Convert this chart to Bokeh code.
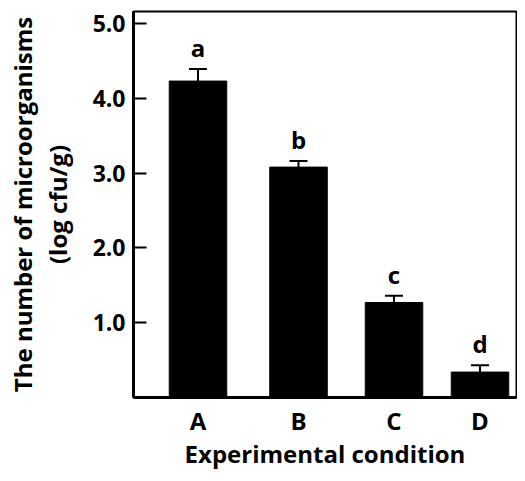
from bokeh.plotting import figure
from bokeh.models import ColumnDataSource, Range1d, FixedTicker, Whisker, TeeHead, PrintfTickFormatter
from bokeh.core.properties import value
from bokeh.embed import file_html
from bokeh.resources import INLINE

categories = ["A", "B", "C", "D"]
means = [4.23, 3.08, 1.27, 0.34]
errors = [0.16, 0.08, 0.09, 0.09]
letters = ["a", "b", "c", "d"]
y_ticks = [1, 2, 3, 4, 5]
x_title = "Experimental condition"
y_title = "The number of microorganisms\n(log cfu/g)"

# layout: horizontal placement of the bars (uneven, as in the reference)
x_pos = [0.645, 1.65, 2.605, 3.465]

FONT = "Open Sans"

src = ColumnDataSource(dict(
    x=x_pos, top=means,
    upper=[m + e for m, e in zip(means, errors)],
    letter=letters,
))

p = figure(width=517, height=473, output_backend="svg", toolbar_location=None,
           x_range=Range1d(0, 3.83), y_range=Range1d(0, 5.16),
           min_border_left=133, min_border_top=11, min_border_right=1, min_border_bottom=76)

p.vbar(x="x", top="top", width=0.575, bottom=0, source=src,
       fill_color="black", line_color="black")

w = Whisker(base="x", lower="top", upper="upper", source=src,
            line_color="black", line_width=2,
            upper_head=TeeHead(size=18, line_color="black", line_width=2),
            lower_head=None)
p.add_layout(w)

p.text(x="x", y="upper", text="letter", source=src, text_align="center",
       text_baseline="bottom", y_offset=-5, text_font_size="24px",
       text_font_style="bold", text_font=value(FONT), text_color="black")

p.grid.visible = False
p.outline_line_color = "black"
p.outline_line_width = 2
p.outline_line_alpha = 1

# x axis
p.xaxis.ticker = FixedTicker(ticks=x_pos)
p.xaxis.major_label_overrides = {x: c for x, c in zip(x_pos, categories)}
p.xaxis.major_tick_line_color = None
p.xaxis.minor_tick_line_color = None
p.xaxis.axis_line_width = 3
p.xaxis.axis_line_color = "black"
p.xaxis.major_label_text_font = FONT
p.xaxis.major_label_text_font_style = "bold"
p.xaxis.major_label_text_font_size = "24px"
p.xaxis.major_label_text_color = "black"
p.xaxis.major_label_standoff = 0
p.xaxis.axis_label = x_title
p.xaxis.axis_label_text_font = FONT
p.xaxis.axis_label_text_font_style = "bold"
p.xaxis.axis_label_text_font_size = "24px"
p.xaxis.axis_label_text_color = "black"
p.xaxis.axis_label_standoff = -3

# y axis
p.yaxis.ticker = FixedTicker(ticks=y_ticks)
p.yaxis.formatter = PrintfTickFormatter(format="%.1f")
p.yaxis.major_tick_in = 13
p.yaxis.major_tick_out = 0
p.yaxis.major_tick_line_width = 2
p.yaxis.minor_tick_line_color = None
p.yaxis.axis_line_width = 3
p.yaxis.axis_line_color = "black"
p.yaxis.major_label_text_font = FONT
p.yaxis.major_label_text_font_style = "bold"
p.yaxis.major_label_text_font_size = "23px"
p.yaxis.major_label_text_color = "black"
p.yaxis.major_label_standoff = 8
p.yaxis.axis_label = y_title
p.yaxis.axis_label_text_font = FONT
p.yaxis.axis_label_text_font_style = "bold"
p.yaxis.axis_label_text_font_size = "24px"
p.yaxis.axis_label_text_line_height = 1.05
p.yaxis.axis_label_text_color = "black"
p.yaxis.axis_label_standoff = 16

open("out.html", "w").write(file_html(p, INLINE))
